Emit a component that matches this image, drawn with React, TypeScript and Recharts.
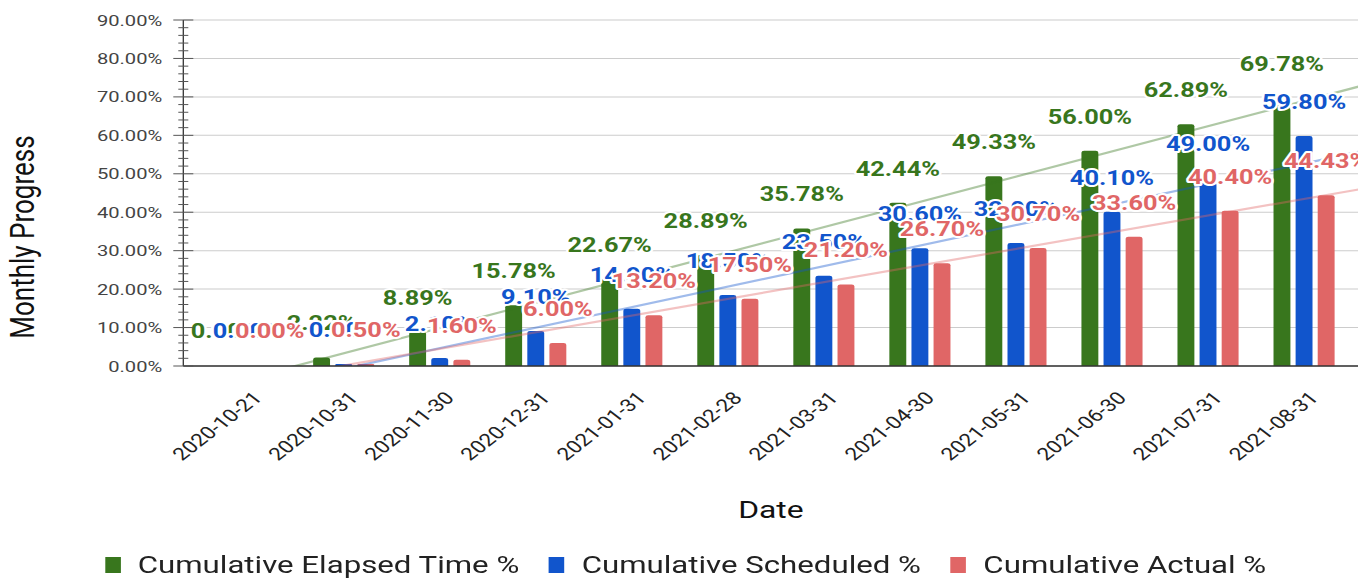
import React from 'react';
import { ComposedChart, Bar, Line, XAxis, YAxis, CartesianGrid, Legend, LabelList } from 'recharts';

const dates = [
  '2020-10-21', '2020-10-31', '2020-11-30', '2020-12-31', '2021-01-31', '2021-02-28',
  '2021-03-31', '2021-04-30', '2021-05-31', '2021-06-30', '2021-07-31', '2021-08-31',
];
const elapsed = [0, 2.22, 8.89, 15.78, 22.67, 28.89, 35.78, 42.44, 49.33, 56.0, 62.89, 69.78];
const scheduled = [0, 0.5, 2.1, 9.1, 14.9, 18.5, 23.5, 30.6, 32.0, 40.1, 49.0, 59.8];
const actual = [0, 0.5, 1.6, 6.0, 13.2, 17.5, 21.2, 26.7, 30.7, 33.6, 40.4, 44.43];
const majorTicks = [0, 10, 20, 30, 40, 50, 60, 70, 80, 90];
const yTicks = [
  0, 2, 4, 6, 8, 10, 12, 14, 16, 18, 20, 22, 24, 26, 28, 30, 32, 34, 36, 38, 40, 42, 44,
  46, 48, 50, 52, 54, 56, 58, 60, 62, 64, 66, 68, 70, 72, 74, 76, 78, 80, 82, 84, 86, 88, 90,
];

const series = [
  { key: 'elapsed', name: 'Cumulative Elapsed Time %', color: '#38761d', values: elapsed },
  { key: 'scheduled', name: 'Cumulative Scheduled %', color: '#1155cc', values: scheduled },
  { key: 'actual', name: 'Cumulative Actual %', color: '#e06666', values: actual },
];

const data = dates.map((date, i) => ({
  date,
  elapsed: elapsed[i],
  scheduled: scheduled[i],
  actual: actual[i],
}));

// the source picture is stretched sideways, so draw narrow and scale the whole thing
const STRETCH = 1.3;
const W = 1045;
const H = 578;
const Y_AXIS_W = 141;
const PAD_L = 13;
const PAD_R = 4.5;
const XAXIS_H = 164;
const LEGEND_H = 48;

const plotW = W - Y_AXIS_W;
const band = (plotW - PAD_L - PAD_R) / dates.length;
const xLo = -0.5 - PAD_L / band;
const xHi = dates.length - 0.5 + PAD_R / band;

// least squares trend over the category index, like the sheet's linear trendline
const trend = (ys: number[]) => {
  const n = ys.length;
  const mx = (n - 1) / 2;
  const my = ys.reduce((s, v) => s + v, 0) / n;
  let sxy = 0;
  let sxx = 0;
  ys.forEach((v, i) => {
    sxy += (i - mx) * (v - my);
    sxx += (i - mx) * (i - mx);
  });
  const b = sxy / sxx;
  const a = my - b * mx;
  return [xLo, xHi].map((x) => ({ x, y: a + b * x }));
};

const YTick = (p: any) => {
  const v = p.payload.value;
  const major = v % 10 === 0;
  const len = major ? 7.7 : 3.85;
  return (
    <g>
      <line x1={p.x - len} x2={p.x + len} y1={p.y} y2={p.y} stroke="#555" strokeWidth={1} />
      {major && (
        <text x={p.x - 16.2} y={p.y} dy="0.36em" textAnchor="end" fontFamily="Roboto" fontSize={15.5} fill="#444">
          {`${v.toFixed(2)}%`}
        </text>
      )}
    </g>
  );
};

const XTick = (p: any) => (
  <text
    transform={`translate(${p.x + 11.5},${p.y + 33}) rotate(-45)`}
    textAnchor="end"
    fontFamily="Roboto"
    fontSize={17.5}
    fill="#222"
  >
    {p.payload.value}
  </text>
);

const makeLabel = (color: string) => (p: any) => {
  const vb = p.viewBox || p;
  const x = (vb.x ?? p.x) + (vb.width ?? p.width) / 2;
  const top = Math.min(vb.y ?? p.y, (vb.y ?? p.y) + (vb.height ?? p.height ?? 0));
  const y = top - 27;
  return (
    <text
      x={x}
      y={y}
      textAnchor="middle"
      fill={color}
      stroke="#fff"
      strokeWidth={4}
      strokeLinejoin="round"
      paintOrder="stroke"
      fontFamily="Roboto"
      fontWeight={700}
      fontSize={19.5}
    >
      {`${Number(p.value).toFixed(2)}%`}
    </text>
  );
};

const LegendContent = () => (
  <div
    style={{
      display: 'flex',
      justifyContent: 'center',
      alignItems: 'center',
      height: LEGEND_H,
      paddingTop: 22,
      paddingLeft: 10,
      boxSizing: 'border-box',
      fontFamily: 'Roboto',
      fontSize: 24,
      color: '#222',
      whiteSpace: 'nowrap',
    }}
  >
    {series.map((s, i) => (
      <div key={s.key} style={{ display: 'flex', alignItems: 'center', marginLeft: i ? 23 : 0 }}>
        <span style={{ display: 'inline-block', width: 12, height: 16, background: s.color, marginRight: 13 }} />
        <span>{s.name}</span>
      </div>
    ))}
  </div>
);

export default function App() {
  return (
    <div
      style={{
        position: 'absolute',
        left: 0,
        top: 0,
        width: W,
        height: H,
        background: '#fff',
        transform: `scaleX(${STRETCH})`,
        transformOrigin: '0 0',
      }}
    >
      <ComposedChart width={W} height={H} data={data} margin={{ top: 20, right: 0, bottom: 0, left: 0 }}>
        <CartesianGrid xAxisId="cat" vertical={false} horizontalValues={majorTicks} stroke="#cccccc" />

        {series.map((s) => (
          <Bar
            key={s.key}
            xAxisId="cat"
            dataKey={s.key}
            name={s.name}
            fill={s.color}
            barSize={13}
            radius={[2, 2, 0, 0]}
            isAnimationActive={false}
          />
        ))}

        {series.map((s) => (
          <Line
            key={`${s.key}-trend`}
            xAxisId="trend"
            data={trend(s.values)}
            dataKey="y"
            type="linear"
            stroke={s.color}
            strokeOpacity={0.4}
            strokeWidth={2.2}
            dot={false}
            activeDot={false}
            legendType="none"
            isAnimationActive={false}
          />
        ))}

        {/* value labels sit above the trendlines; minPointSize keeps the zero bars so they get a label too */}
        {series.map((s) => (
          <Bar
            key={`${s.key}-labels`}
            xAxisId="lbl"
            dataKey={s.key}
            fill="none"
            barSize={13}
            minPointSize={0.5}
            legendType="none"
            isAnimationActive={false}
          >
            <LabelList dataKey={s.key} content={makeLabel(s.color)} />
          </Bar>
        ))}

        <XAxis
          xAxisId="cat"
          dataKey="date"
          padding={{ left: PAD_L, right: PAD_R }}
          height={XAXIS_H}
          interval={0}
          tickSize={0}
          tickMargin={0}
          tickLine={false}
          axisLine={{ stroke: '#333', strokeWidth: 1.5 }}
          tick={<XTick />}
          label={(p: any) => {
            const vb = p.viewBox;
            return (
              <text x={vb.x + vb.width / 2} y={vb.y + 152} textAnchor="middle" fontFamily="Roboto" fontSize={24.5} fill="#111">
                Date
              </text>
            );
          }}
        />
        <XAxis xAxisId="lbl" dataKey="date" padding={{ left: PAD_L, right: PAD_R }} hide />
        <XAxis xAxisId="trend" type="number" dataKey="x" domain={[xLo, xHi]} allowDataOverflow hide />
        <YAxis
          width={Y_AXIS_W}
          domain={[0, 90]}
          ticks={yTicks}
          interval={0}
          allowDataOverflow
          tickSize={0}
          tickMargin={0}
          tickLine={false}
          axisLine={{ stroke: '#333', strokeWidth: 1 }}
          tick={<YTick />}
          label={(p: any) => {
            const vb = p.viewBox;
            return (
              <text
                transform={`translate(26,${vb.y + vb.height / 2 + 44}) rotate(-90)`}
                textAnchor="middle"
                fontFamily="Roboto"
                fontSize={26}
                fill="#111"
              >
                Monthly Progress
              </text>
            );
          }}
        />
        <Legend
          verticalAlign="bottom"
          height={LEGEND_H}
          wrapperStyle={{ left: 0, width: W, bottom: 0 }}
          content={<LegendContent />}
        />
      </ComposedChart>
    </div>
  );
}
